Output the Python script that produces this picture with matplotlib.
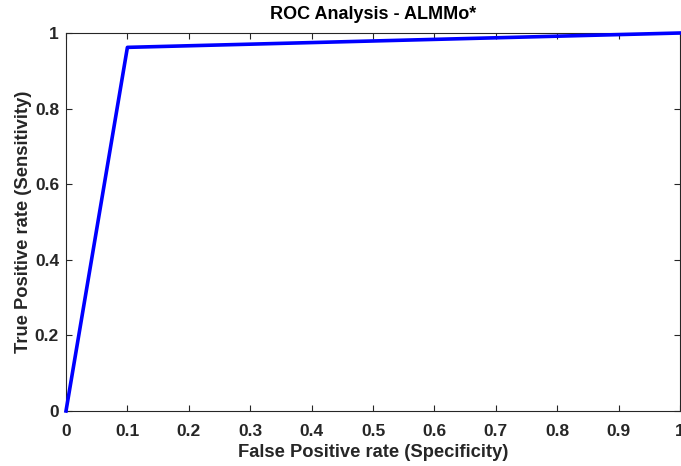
import numpy as np
import matplotlib
matplotlib.use('Agg')
import matplotlib.pyplot as plt

# ROC curve points
fpr = [0.0, 0.1, 1.0]
tpr = [0.0, 0.962, 1.0]

xticks = [0, 0.1, 0.2, 0.3, 0.4, 0.5, 0.6, 0.7, 0.8, 0.9, 1]
yticks = [0, 0.2, 0.4, 0.6, 0.8, 1]

plt.rcParams['font.family'] = ['Liberation Sans', 'DejaVu Sans']
plt.rcParams['font.weight'] = 'bold'

fig = plt.figure(figsize=(6.81, 4.66), dpi=100)
ax = fig.add_axes([66 / 681, 55 / 466, 614 / 681, 378 / 466])

ax.plot(fpr, tpr, color='#0000ff', linewidth=2.6, clip_on=False, zorder=3)

ax.set_xlim(0, 1)
ax.set_ylim(0, 1)
ax.set_xticks(xticks)
ax.set_xticklabels(['0', '0.1', '0.2', '0.3', '0.4', '0.5', '0.6', '0.7', '0.8', '0.9', '1'])
ax.set_yticks(yticks)
ax.set_yticklabels(['0', '0.2', '0.4', '0.6', '0.8', '1'])

ax.tick_params(direction='in', top=True, right=True, length=4, width=0.8,
               colors='#262626', labelsize=12.5)
ax.tick_params(axis='x', pad=9)
ax.tick_params(axis='y', pad=5)
for lbl in ax.get_xticklabels() + ax.get_yticklabels():
    lbl.set_fontweight('bold')
for s in ax.spines.values():
    s.set_color('#262626')
    s.set_linewidth(0.8)

ax.set_xlabel('False Positive rate (Specificity)', fontsize=13.2, fontweight='bold', color='#262626', labelpad=4)
ax.set_ylabel('True Positive rate (Sensitivity)', fontsize=13.2, fontweight='bold', color='#262626', labelpad=2)
ax.set_title('ROC Analysis - ALMMo*', fontsize=13, fontweight='bold', color='black', pad=10)

fig.savefig('out.png', dpi=100)
